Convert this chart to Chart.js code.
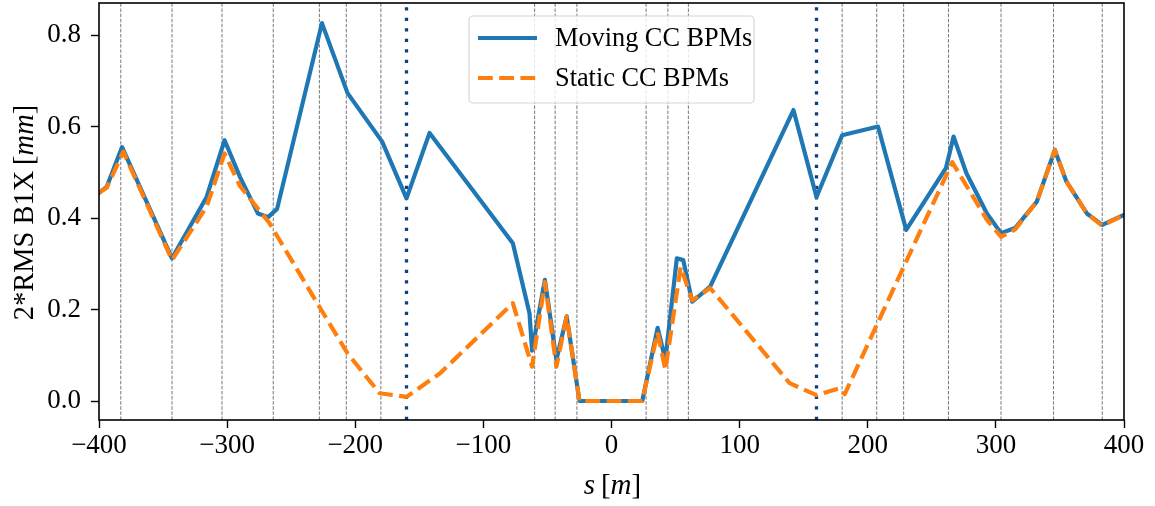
<!DOCTYPE html>
<html>
<head>
<meta charset="utf-8">
<script src="https://cdn.jsdelivr.net/npm/chart.js@4"></script>
<style>
  html, body { margin: 0; padding: 0; background: #fff; }
  #wrap { width: 1155px; height: 506px; }
</style>
</head>
<body>
<div id="wrap"><canvas id="myChart" width="1155" height="506"></canvas></div>
<script>
// BPM positions along s (m) and crab cavity positions
var bpmPos = [-383, -343, -304, -264, -228, -207, -180, -60, -44, -27, 27, 44, 60, 180, 207, 228, 263, 304, 345, 383];
var ccPos = [-160, 160];

// moving CC BPMs
var movingS = [-400, -394, -382, -343, -316, -302, -290, -276, -268, -261, -226, -206, -179, -160, -142,
	-77, -64, -62, -52, -43, -35, -25, 24, 36, 42, 51, 56, 63, 77,
	142, 160, 180, 208, 230, 261, 267, 277, 293, 304, 315, 332, 346, 355, 371, 383, 400];
var movingY = [0.455, 0.468, 0.555, 0.312, 0.446, 0.570, 0.490, 0.410, 0.402, 0.420, 0.826, 0.673, 0.567, 0.443, 0.586,
	0.345, 0.192, 0.110, 0.265, 0.090, 0.185, 0.0, 0.0, 0.160, 0.090, 0.312, 0.308, 0.217, 0.250,
	0.636, 0.446, 0.581, 0.600, 0.374, 0.509, 0.578, 0.498, 0.410, 0.367, 0.378, 0.436, 0.549, 0.480, 0.410, 0.385, 0.407];

// static CC BPMs
var staticS = [-400, -394, -381, -343, -316, -302, -290, -267, -228, -206, -181, -160, -134,
	-77, -62, -52, -43, -35, -25, 24, 36, 42, 54, 63, 77,
	139, 160, 178, 182, 228, 266, 293, 304, 315, 332, 346, 355, 371, 383, 400];
var staticY = [0.455, 0.466, 0.545, 0.308, 0.425, 0.541, 0.470, 0.389, 0.206, 0.104, 0.017, 0.009, 0.060,
	0.214, 0.075, 0.260, 0.075, 0.185, 0.0, 0.0, 0.150, 0.068, 0.293, 0.220, 0.247,
	0.039, 0.013, 0.028, 0.015, 0.293, 0.522, 0.396, 0.359, 0.375, 0.436, 0.549, 0.480, 0.410, 0.383, 0.407];

var xTicks = [-400, -300, -200, -100, 0, 100, 200, 300, 400];
var yTicks = [0.0, 0.2, 0.4, 0.6, 0.8];

var Y_MIN = -0.0415, Y_MAX = 0.870;
var SERIF = '"Liberation Serif", "Times New Roman", Times, serif';

function toPoints(xs, ys) {
	return xs.map(function(x, i) { return {x: x, y: ys[i]}; });
}

function vline(s, style) {
	return Object.assign({
		data: [{x: s, y: Y_MIN}, {x: s, y: Y_MAX}],
		pointRadius: 0,
		fill: false,
		inLegend: false,
	}, style);
}

var datasets = [];
bpmPos.forEach(function(s) {
	datasets.push(vline(s, {borderColor: 'rgba(105,105,105,0.9)', borderWidth: 1, borderDash: [3.5, 1.6], order: 5}));
});
ccPos.forEach(function(s) {
	datasets.push(vline(s, {borderColor: '#0e3f7c', borderWidth: 3.3, borderDash: [3.3, 7.2], borderCapStyle: 'butt', order: 4}));
});
datasets.push({
	label: 'Moving CC BPMs',
	data: toPoints(movingS, movingY),
	borderColor: '#1f77b4',
	borderWidth: 4.2,
	pointRadius: 0,
	borderJoinStyle: 'round',
	borderCapStyle: 'round',
	inLegend: true,
	order: 2,
});
datasets.push({
	label: 'Static CC BPMs',
	data: toPoints(staticS, staticY),
	borderColor: '#ff7f0e',
	borderWidth: 4.2,
	borderDash: [14.8, 6.4],
	pointRadius: 0,
	borderJoinStyle: 'round',
	inLegend: true,
	order: 1,
});

// frame, axis titles and legend box drawn by hand
var decor = {
	id: 'decor',
	afterDraw: function(chart) {
		var ctx = chart.ctx, a = chart.chartArea;
		ctx.save();
		ctx.strokeStyle = '#000';
		ctx.lineWidth = 1.6;
		ctx.strokeRect(a.left, a.top, a.right - a.left, a.bottom - a.top);

		// x title: s [m]
		ctx.fillStyle = '#000';
		ctx.textBaseline = 'alphabetic';
		var parts = [['s', 'italic'], ['\u2009[', 'normal'], ['m', 'italic'], [']', 'normal']];
		drawParts(ctx, parts, (a.left + a.right) / 2 + 1, 494, 29);

		// y title: 2*RMS B1X [mm]
		ctx.save();
		ctx.translate(33, (a.top + a.bottom) / 2 + 1);
		ctx.rotate(-Math.PI / 2);
		drawParts(ctx, [['2*RMS B1X\u2009[', 'normal'], ['mm', 'italic'], [']', 'normal']], 0, 0, 28.5);
		ctx.restore();

		// legend
		var bx = 469, by = 16, bw = 285, bh = 87;
		ctx.beginPath();
		ctx.roundRect(bx, by, bw, bh, 4);
		ctx.fillStyle = 'rgba(255,255,255,0.82)';
		ctx.fill();
		ctx.strokeStyle = '#d6d6d6';
		ctx.lineWidth = 1.2;
		ctx.stroke();
		var rows = chart.data.datasets.filter(function(d) { return d.inLegend; });
		rows.forEach(function(d, i) {
			var y = by + 22 + i * 40;
			ctx.beginPath();
			ctx.strokeStyle = d.borderColor;
			ctx.lineWidth = d.borderWidth;
			ctx.lineCap = 'butt';
			ctx.setLineDash(d.borderDash || []);
			ctx.moveTo(478, y);
			ctx.lineTo(537, y);
			ctx.stroke();
			ctx.setLineDash([]);
			ctx.fillStyle = '#000';
			ctx.font = '26.3px ' + SERIF;
			ctx.textAlign = 'left';
			ctx.textBaseline = 'middle';
			ctx.fillText(d.label, 555, y + 1);
		});
		ctx.restore();
	}
};

function drawParts(ctx, parts, cx, y, size) {
	var total = 0;
	parts.forEach(function(p) {
		ctx.font = p[1] + ' ' + size + 'px ' + SERIF;
		total += ctx.measureText(p[0]).width;
	});
	var x = cx - total / 2;
	ctx.textAlign = 'left';
	parts.forEach(function(p) {
		ctx.font = p[1] + ' ' + size + 'px ' + SERIF;
		ctx.fillText(p[0], x, y);
		x += ctx.measureText(p[0]).width;
	});
}

function noEdgePadding(scale) {
	scale.paddingTop = 0;
	scale.paddingBottom = 0;
}

function drawChart() {
	var context = document.getElementById('myChart').getContext('2d');
	new Chart(context, {
		type: 'line',
		data: { datasets: datasets },
		options: {
			responsive: false,
			animation: false,
			layout: { padding: { top: 3, right: 31, left: 0, bottom: 0 } },
			elements: { line: { tension: 0, fill: false } },
			plugins: {
				legend: { display: false },
				tooltip: { enabled: false },
			},
			scales: {
				x: {
					type: 'linear',
					min: -400,
					max: 400,
					afterBuildTicks: function(scale) {
						scale.ticks = xTicks.map(function(v) { return {value: v}; });
					},
					afterFit: function(scale) { scale.height = 86; },
					grid: { drawOnChartArea: false, drawTicks: true, tickLength: 8, tickColor: '#000', tickWidth: 1.4 },
					border: { display: false },
					ticks: {
						color: '#000',
						font: { family: SERIF, size: 27 },
						padding: 2,
						maxRotation: 0,
						callback: function(v) { return String(v).replace('-', '\u2212'); },
					},
				},
				y: {
					type: 'linear',
					min: Y_MIN,
					max: Y_MAX,
					afterBuildTicks: function(scale) {
						scale.ticks = yTicks.map(function(v) { return {value: v}; });
					},
					afterFit: function(scale) { scale.width = 99; noEdgePadding(scale); },
					grid: { drawOnChartArea: false, drawTicks: true, tickLength: 8, tickColor: '#000', tickWidth: 1.4 },
					border: { display: false },
					ticks: {
						color: '#000',
						font: { family: SERIF, size: 27 },
						padding: 10,
						callback: function(v) { return v.toFixed(1); },
					},
				},
			},
		},
		plugins: [decor],
	});
}

// wait for the serif face so canvas text is measured with it
document.fonts.load('27px "Liberation Serif"').then(drawChart, drawChart);
</script>
</body>
</html>
